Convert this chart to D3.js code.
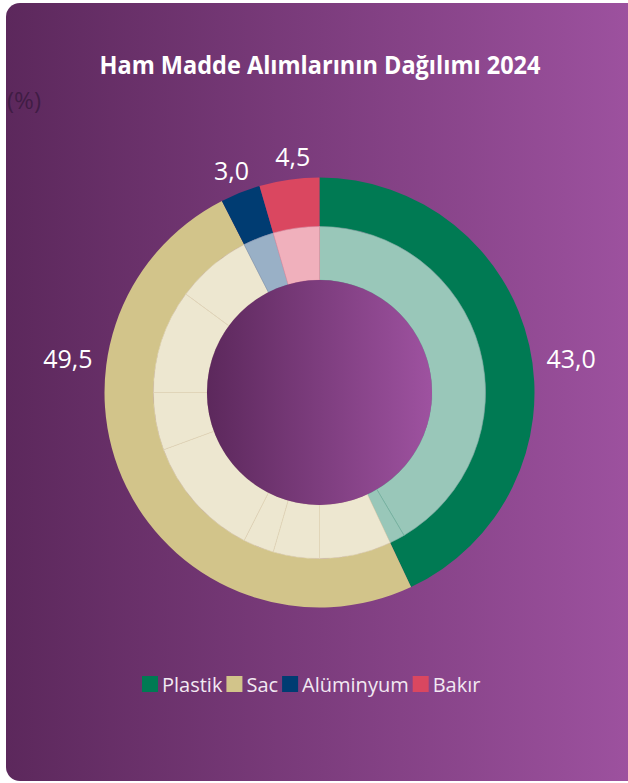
<!DOCTYPE html>
<html>
<head>
<meta charset="utf-8">
<script src="https://cdn.jsdelivr.net/npm/d3@7"></script>
<style>
  html, body { margin: 0; padding: 0; background: #ffffff; }
  svg { display: block; }
</style>
</head>
<body>
<svg id="chart" width="628" height="783"></svg>
<script>
// Raw material purchase shares, 2024 (%)
const categories = ["Plastik", "Sac", "Alüminyum", "Bakır"];
const shares = [43.0, 49.5, 3.0, 4.5];

// Breakdown of each material into its sub-items (inner ring)
const plastikParts = [41.5, 1.5];
const sacParts = [7.0, 4.5, 3.0, 11.9, 5.6, 10.1, 7.4];
const aluminyumParts = [3.0];
const bakirParts = [4.5];

const title = "Ham Madde Alımlarının Dağılımı 2024";
const unitLabel = "(%)";

const outerColors = ["#007a53", "#d2c48a", "#003c72", "#da4760"];
const innerColors = ["#99c7b9", "#ede7d0", "#99b0c6", "#f0b0bc"];
const innerLines = ["#6db39c", "#e2d9b5", "#7f9bb6", "#e596a4"];

const W = 628, H = 783;
const cx = 319.5, cy = 392.5;
const R = 215, Rmid = 166, Rin = 112.5;

const svg = d3.select("#chart");
const defs = svg.append("defs");
const grad = defs.append("linearGradient")
  .attr("id", "bg").attr("x1", "0").attr("y1", "0").attr("x2", "1").attr("y2", "0");
grad.append("stop").attr("offset", "0%").attr("stop-color", "#5c285c");
grad.append("stop").attr("offset", "100%").attr("stop-color", "#9e52a0");

// panel
svg.append("rect")
  .attr("x", 6).attr("y", 3).attr("width", 636).attr("height", 778)
  .attr("rx", 14).attr("ry", 14)
  .attr("fill", "url(#bg)");

// title
svg.append("text")
  .attr("x", 320).attr("y", 74)
  .attr("text-anchor", "middle")
  .attr("font-family", "'Open Sans', sans-serif")
  .attr("font-weight", 700)
  .attr("font-size", 25)
  .attr("textLength", 441)
  .attr("lengthAdjust", "spacingAndGlyphs")
  .attr("fill", "#ffffff")
  .text(title);

svg.append("text")
  .attr("x", 7).attr("y", 109)
  .attr("font-family", "'Open Sans', sans-serif")
  .attr("font-weight", 400)
  .attr("font-size", 23)
  .attr("textLength", 34)
  .attr("lengthAdjust", "spacingAndGlyphs")
  .attr("fill", "#3a1a40")
  .attr("fill-opacity", 0.85)
  .text(unitLabel);

const g = svg.append("g").attr("transform", `translate(${cx},${cy})`);

// outer ring: materials
const pie = d3.pie().sort(null).value(d => d.value);
const outerData = pie(categories.map((c, i) => ({ name: c, value: shares[i], i })));
const outerArc = d3.arc().innerRadius(Rmid).outerRadius(R);

g.selectAll("path.outer")
  .data(outerData)
  .join("path")
  .attr("class", "outer")
  .attr("d", outerArc)
  .attr("fill", d => outerColors[d.data.i]);

// inner ring: sub-items of each material
const partsList = [plastikParts, sacParts, aluminyumParts, bakirParts];
const innerItems = [];
partsList.forEach((parts, i) => parts.forEach(v => innerItems.push({ value: v, i })));
const innerData = pie(innerItems);
const innerArc = d3.arc().innerRadius(Rin).outerRadius(Rmid);

g.selectAll("path.inner")
  .data(innerData)
  .join("path")
  .attr("class", "inner")
  .attr("d", innerArc)
  .attr("fill", d => innerColors[d.data.i])
  .attr("stroke", d => innerLines[d.data.i])
  .attr("stroke-width", 0.6);

// centre disc carries its own gradient
g.append("circle").attr("r", Rin).attr("fill", "url(#bg)");

// value labels
const fmt = v => d3.format(".1f")(v).replace(".", ",");
const labelArc = d3.arc().innerRadius(239).outerRadius(239);
outerData.forEach(d => {
  const mid = (d.startAngle + d.endAngle) / 2;
  let x, y, anchor = "middle";
  if (d.value > 20) {
    const right = mid < Math.PI;
    x = right ? R + 12 : -R - 12;
    y = -35;
    anchor = right ? "start" : "end";
  } else {
    [x, y] = labelArc.centroid(d);
    if (d.index === categories.length - 1) x += 7;
  }
  g.append("text")
    .attr("x", x).attr("y", y)
    .attr("text-anchor", anchor)
    .attr("dominant-baseline", "central")
    .attr("font-family", "'Open Sans', sans-serif")
    .attr("font-weight", 400)
    .attr("font-size", 25)
    .attr("fill", "#ffffff")
    .text(fmt(d.value));
});

// legend
const legend = svg.append("g").attr("transform", "translate(0,684)");
let lx = 142;
categories.forEach((c, i) => {
  legend.append("rect")
    .attr("x", lx).attr("y", -8).attr("width", 16).attr("height", 16)
    .attr("fill", outerColors[i]);
  const t = legend.append("text")
    .attr("x", lx + 20).attr("y", 0)
    .attr("dominant-baseline", "central")
    .attr("font-family", "'Open Sans', sans-serif")
    .attr("font-size", 20)
    .attr("fill", "#f2e9f2")
    .text(c);
  lx += 20 + t.node().getComputedTextLength() + 4;
});
</script>
</body>
</html>
